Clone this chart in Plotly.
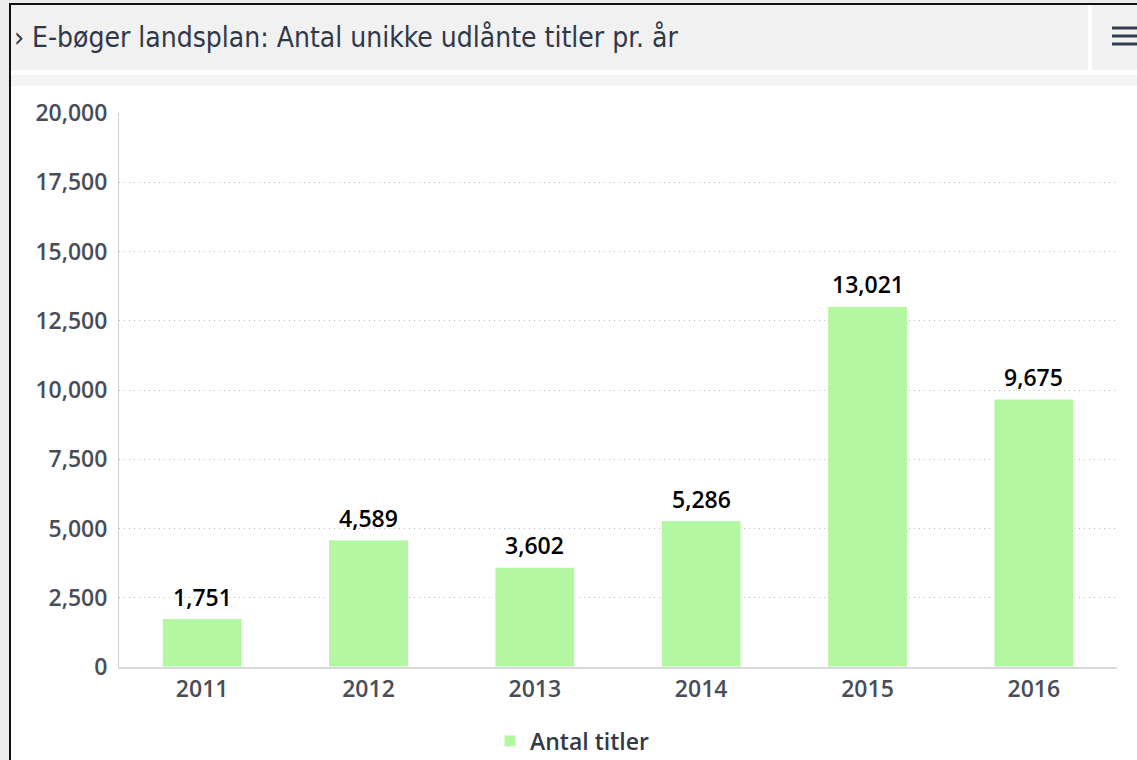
import plotly.graph_objects as go

years = ["2011", "2012", "2013", "2014", "2015", "2016"]
values = [1751, 4589, 3602, 5286, 13021, 9675]
value_labels = ["1,751", "4,589", "3,602", "5,286", "13,021", "9,675"]
series_name = "Antal titler"
title_text = "› E-bøger landsplan: Antal unikke udlånte titler pr. år"

W, H = 1137, 760
L, R, T, B = 119, 20, 113, 93
PW = W - L - R
PH = H - T - B


def px(x):
    return (x - L) / PW


def py(y):
    return (H - B - y) / PH


bar_color = "#b3f7a2"
FONT = "Open Sans, Noto Sans, sans-serif"
tick_font = dict(family=FONT, size=23, color="#484d58", weight=600)

fig = go.Figure()
fig.add_trace(go.Bar(
    x=years, y=values, name=series_name,
    marker=dict(color=bar_color, line=dict(color="white", width=1)),
    showlegend=True,
))

for i, (v, lab) in enumerate(zip(values, value_labels)):
    fig.add_annotation(x=i, y=v, text=lab, showarrow=False, yanchor="middle",
                       yshift=22, font=dict(family=FONT, size=23, color="#000000", weight=600))

shapes = []
shapes.append(dict(type="rect", xref="paper", yref="paper", x0=px(0), x1=px(9), y0=py(H), y1=py(0),
                   fillcolor="#ececec", line=dict(width=0), layer="below"))
shapes.append(dict(type="rect", xref="paper", yref="paper", x0=px(0), x1=px(W), y0=py(3), y1=py(0),
                   fillcolor="#ececec", line=dict(width=0), layer="below"))
shapes.append(dict(type="rect", xref="paper", yref="paper", x0=px(11), x1=px(1088), y0=py(70), y1=py(5),
                   fillcolor="#f1f1f1", line=dict(width=0), layer="below"))
shapes.append(dict(type="rect", xref="paper", yref="paper", x0=px(1092), x1=px(W), y0=py(70), y1=py(5),
                   fillcolor="#f1f1f1", line=dict(width=0), layer="below"))
shapes.append(dict(type="rect", xref="paper", yref="paper", x0=px(11), x1=px(W), y0=py(86), y1=py(75),
                   fillcolor="#f4f4f4", line=dict(width=0), layer="below"))
shapes.append(dict(type="line", xref="paper", yref="paper", x0=px(10), x1=px(10), y0=py(H), y1=py(3),
                   line=dict(color="#111111", width=2)))
shapes.append(dict(type="line", xref="paper", yref="paper", x0=px(9), x1=px(W), y0=py(4), y1=py(4),
                   line=dict(color="#111111", width=2)))
for yy in (28, 36, 44):
    shapes.append(dict(type="line", xref="paper", yref="paper", x0=px(1112), x1=px(1137), y0=py(yy), y1=py(yy),
                       line=dict(color="#333c4e", width=3)))

fig.update_layout(
    width=W, height=H,
    margin=dict(l=L, r=R, t=T, b=B),
    paper_bgcolor="white", plot_bgcolor="white",
    bargap=0.52,
    shapes=shapes,
    showlegend=True,
    legend=dict(orientation="h", xref="container", yref="container",
                x=490 / W, xanchor="left", y=1 - 741 / H, yanchor="middle",
                font=dict(family=FONT, size=23, color="#333a47", weight=600),
                bgcolor="rgba(0,0,0,0)"),
    xaxis=dict(type="category", showgrid=False, showline=True, linecolor="#d9d9d9", linewidth=2,
               ticks="", tickfont=tick_font, fixedrange=True, range=[-0.5, len(years) - 0.5]),
    yaxis=dict(range=[0, 20000], dtick=2500, tickformat=",", showgrid=True,
               gridcolor="#bdbdbd", griddash="1px,4px", gridwidth=1,
               showline=True, linecolor="#d0d0d0", linewidth=1,
               zeroline=False, ticks="", tickfont=tick_font, ticklabelstandoff=6),
)

fig.add_annotation(xref="paper", yref="paper", x=px(12), y=py(37), xanchor="left", yanchor="middle",
                   text=title_text, showarrow=False,
                   font=dict(family="DejaVu Sans Condensed, Liberation Sans Narrow, Roboto, sans-serif",
                             size=28, color="#2f3848"))

fig.write_html("out.html", config={"displayModeBar": False},
               post_script="document.body.style.margin='0';document.body.style.overflow='hidden';")
